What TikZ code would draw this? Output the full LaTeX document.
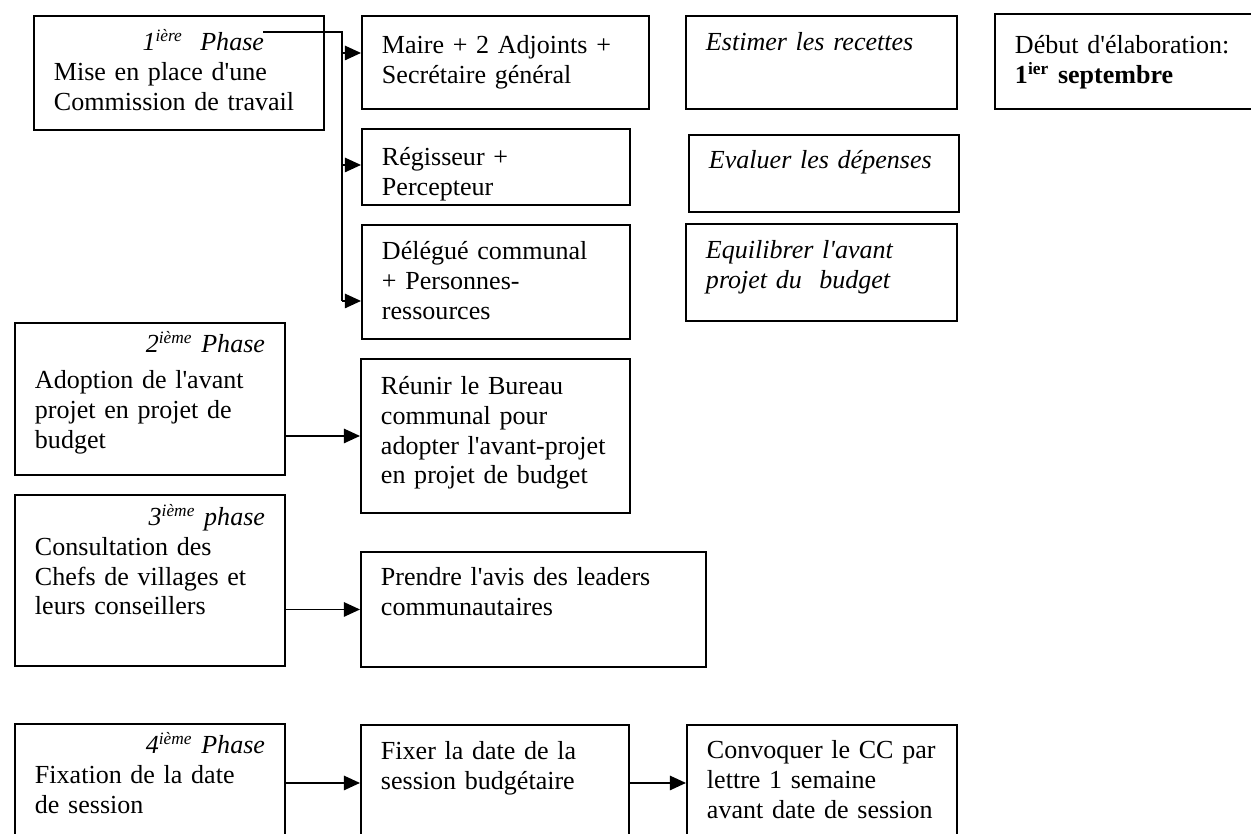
\documentclass[tikz,border=0pt]{standalone}
\usepackage{fontspec}
\setmainfont{Liberation Serif}
\usetikzlibrary{arrows.meta}
\newdimen\px \px=0.4608pt
\newcommand{\apos}{\textquotesingle}

\begin{document}
\begin{tikzpicture}[x=\px, y=-\px,
	boite/.style={draw, line width=0.9pt, anchor=north west, inner xsep=20\px, inner ysep=0pt, align=left, font=\fontsize{12pt}{13.6pt}\selectfont},
	fleche/.style={line width=0.8pt, -{Triangle[length=7.4pt, width=6.6pt]}}]
	\useasboundingbox (0,0) rectangle (1251,834);
	\clip (0,0) rectangle (1251,834);

	% 1ere phase
	\node[boite, text width=250\px, text height=35\px, text depth=79\px] (p1) at (33,15)
		{\hfill\textit{1\textsuperscript{ière}\ \ Phase}\hspace*{40\px}\mbox{}\\ Mise en place d\apos une\\ Commission de travail};
	\node[boite, text width=247\px, text height=38\px, text depth=55\px] (m1) at (361,15)
		{Maire + 2 Adjoints +\\ Secrétaire général};
	\node[boite, text width=228\px, text height=37\px, text depth=39\px] (m2) at (361,128)
		{Régisseur +\\ Percepteur};
	\node[boite, text width=228\px, text height=35\px, text depth=79\px] (m3) at (361,224)
		{Délégué communal\\ + Personnes-\\ ressources};
	\node[boite, text width=231\px, text height=35\px, text depth=58\px] (e1) at (685,15)
		{\itshape Estimer les recettes};
	\node[boite, text width=230\px, text height=34\px, text depth=43\px] (e2) at (688,134)
		{\itshape Evaluer les dépenses};
	\node[boite, text width=231\px, text height=35\px, text depth=62\px] (e3) at (685,223)
		{\itshape Equilibrer l\apos avant\\ projet du\ \ budget};
	\node[boite, text width=260\px, text height=40\px, text depth=55\px] (debut) at (994,13)
		{Début d\apos élaboration:\\ \textbf{1\textsuperscript{ier} septembre}};

	\coordinate (depart) at (263,32);
	\coordinate (coude) at (342,32);
	\draw[line width=0.8pt] (depart) -| ([yshift=-19\px]m3.west -| coude);
	\foreach \cible/\dy in {m1/9.5, m2/2, m3/-19}
		\draw[fleche] ([yshift=\dy\px]\cible.west -| coude) -- ([yshift=\dy\px]\cible.west);

	% 2eme phase
	\node[boite, text width=230\px, text height=30\px, text depth=122\px] (p2) at (14,322)
		{\hfill\textit{2\textsuperscript{ième} Phase}\\[3pt] Adoption de l\apos avant\\ projet en projet de\\ budget};
	\node[boite, text width=229\px, text height=36\px, text depth=118\px] (reunir) at (360,358)
		{Réunir le Bureau\\ communal pour\\ adopter l\apos avant-projet\\ en projet de budget};
	\draw[fleche] (p2.east |- reunir.west) -- (reunir.west);

	% 3eme phase
	\node[boite, text width=230\px, text height=31\px, text depth=140\px] (p3) at (14,494)
		{\hfill\textit{3\textsuperscript{ième} phase}\\ Consultation des\\ Chefs de villages et\\ leurs conseillers};
	\node[boite, text width=305\px, text height=34\px, text depth=81\px] (avis) at (360,551)
		{Prendre l\apos avis des leaders\\ communautaires};
	\draw[fleche] (p3.east |- avis.west) -- (avis.west);

	% 4eme phase
	\node[boite, text width=230\px, text height=30\px, text depth=88\px] (p4) at (14,723)
		{\hfill\textit{4\textsuperscript{ième} Phase}\\ Fixation de la date\\ de session};
	\node[boite, text width=228\px, text height=35\px, text depth=81\px] (fixer) at (360,724)
		{Fixer la date de la\\ session budgétaire};
	\node[boite, text width=230\px, text height=34\px, text depth=82\px] (convoquer) at (686,724)
		{Convoquer le CC par\\ lettre 1 semaine\\ avant date de session};
	\draw[fleche] (p4.east |- fixer.west) -- (fixer.west);
	\draw[fleche] (fixer) -- (convoquer);
\end{tikzpicture}
\end{document}
